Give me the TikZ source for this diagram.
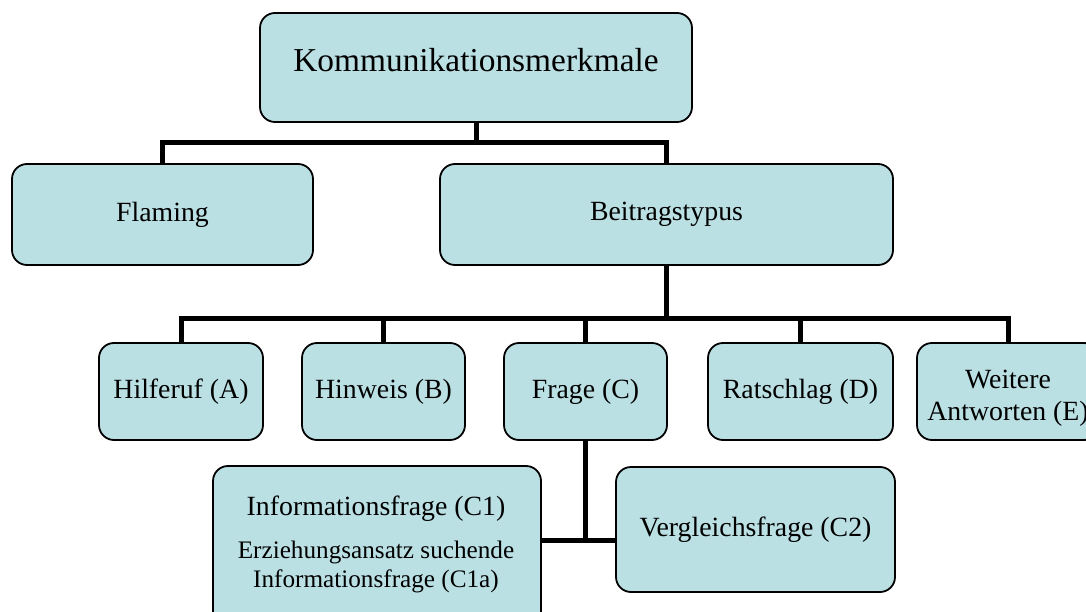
\documentclass[tikz,border=0pt]{standalone}
\usepackage{fontspec}
\setmainfont{Liberation Serif}
\begin{document}
\begin{tikzpicture}[x=1pt,y=-1pt,
  box/.style={draw=black, line width=1.8pt, fill=boxfill, rounded corners=15pt,
    inner sep=0pt, align=center, font=\fontsize{27.8}{32}\selectfont},
  conn/.style={draw=black, line width=5pt, line join=miter, line cap=butt},
  lbl/.style={inner sep=0pt, anchor=base}]
\definecolor{boxfill}{RGB}{186,224,228}
\useasboundingbox (0,0) rectangle (1086,612);
\clip (0,0) rectangle (1086,612);

% boxes
\node[box, minimum width=432pt, minimum height=109pt] (top) at (476,67.5) {};
\node[box, minimum width=301pt, minimum height=101pt] (flaming) at (162.5,214.5) {Flaming};
\node[box, minimum width=453pt, minimum height=101pt] (beitrag) at (666.5,214.5) {Beitragstypus};
\node[box, minimum width=164pt, minimum height=97pt] (hilfe) at (181,391.5) {Hilferuf (A)};
\node[box, minimum width=163pt, minimum height=97pt] (hinweis) at (383.5,391.5) {Hinweis (B)};
\node[box, minimum width=163pt, minimum height=97pt] (frage) at (585.5,391.5) {Frage (C)};
\node[box, minimum width=185pt, minimum height=97pt] (rat) at (800.5,391.5) {Ratschlag (D)};
\node[box, minimum width=182pt, minimum height=97pt] (weitere) at (1008,391.5) {};
\node[box, minimum width=328pt, minimum height=164pt] (info) at (377,548) {};
\node[box, minimum width=279pt, minimum height=125pt] (vergl) at (755.5,529.5) {Vergleichsfrage (C2)};

% labels placed inside the empty boxes
\node[lbl, font=\fontsize{33.4}{38}\selectfont] (toplbl) at (476,72) {Kommunikationsmerkmale};
\node[lbl, font=\fontsize{27.8}{32}\selectfont] (weiter1) at (1008,388) {Weitere};
\node[lbl, font=\fontsize{27.8}{32}\selectfont] (weiter2) at (1008,420) {Antworten (E)};
\node[lbl, font=\fontsize{27.8}{32}\selectfont] (infolbl) at (376,515) {Informationsfrage (C1)};
\node[lbl, font=\fontsize{25.2}{29}\selectfont] (infosub1) at (376,558) {Erziehungsansatz suchende};
\node[lbl, font=\fontsize{25.2}{29}\selectfont] (infosub2) at (376,587) {Informationsfrage (C1a)};

% connector bars
\coordinate (bar1) at (0,143);
\coordinate (bar2) at (0,318);
\coordinate (bar3) at (0,540);

\draw[conn] (top.south) -- (top.south |- bar1);
\draw[conn] (flaming.north) -- (flaming.north |- bar1) -- (beitrag.north |- bar1) -- (beitrag.north);

\draw[conn] (beitrag.south) -- (beitrag.south |- bar2);
\draw[conn] (hilfe.north) -- (hilfe.north |- bar2) -- (weitere.north |- bar2) -- (weitere.north);
\draw[conn] (hinweis.north) -- (hinweis.north |- bar2);
\draw[conn] (frage.north) -- (frage.north |- bar2);
\draw[conn] (rat.north) -- (rat.north |- bar2);

\draw[conn] (frage.south) -- (frage.south |- bar3);
\draw[conn] (info.east |- bar3) -- (vergl.west |- bar3);
\end{tikzpicture}
\end{document}
